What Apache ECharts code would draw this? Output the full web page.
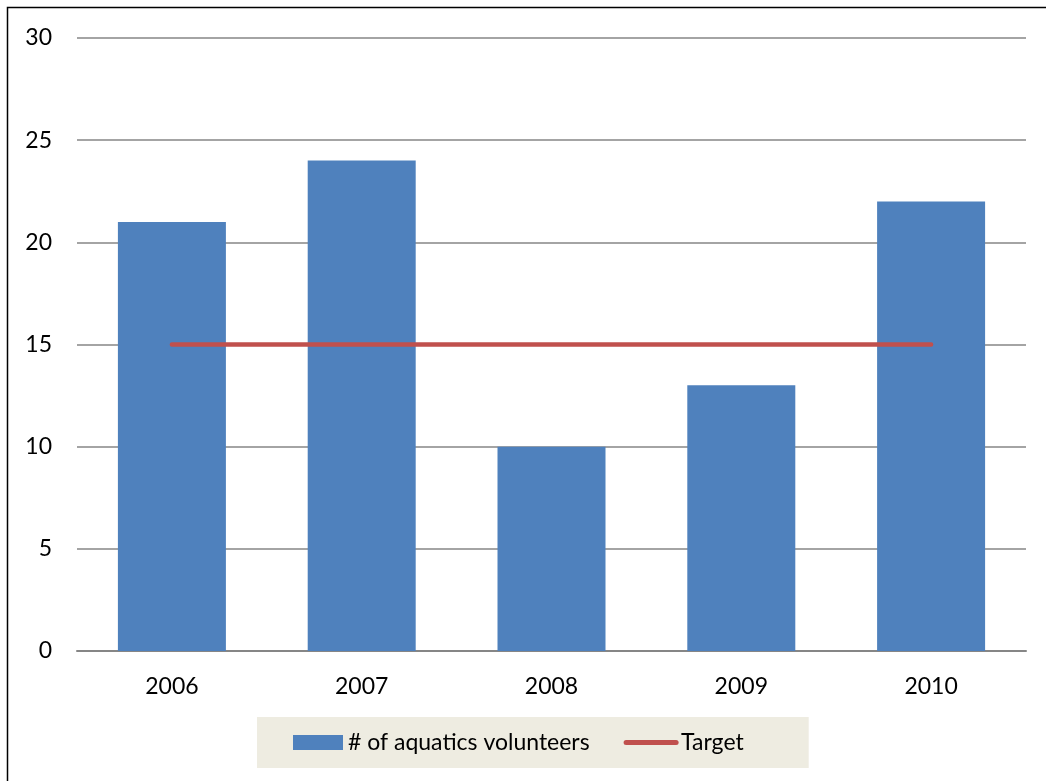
<!DOCTYPE html>
<html>
<head>
<meta charset="utf-8">
<script src="https://cdn.jsdelivr.net/npm/echarts@6/dist/echarts.min.js"></script>
<style>
  html, body { margin: 0; padding: 0; background: #fff; }
  #chart { width: 1046px; height: 781px; }
</style>
</head>
<body>
<div id="chart"></div>
<script>
const years = ["2006", "2007", "2008", "2009", "2010"];
const volunteers = [21, 24, 10, 13, 22];
const target = [15, 15, 15, 15, 15];

const chart = echarts.init(document.getElementById("chart"));

const font = "Lato, 'Open Sans', sans-serif";

chart.setOption({
    animation: false,
    textStyle: { fontFamily: font },
    graphic: [{
        type: "rect",
        shape: { x: 7.5, y: 7.5, width: 1060, height: 800 },
        style: { fill: "none", stroke: "#000", lineWidth: 1.5 },
        silent: true
    }],
    grid: { left: 77, right: 20, top: 38, bottom: 130 },
    legend: {
        left: 257,
        top: 717,
        backgroundColor: "#EEECE1",
        padding: [14, 65, 14, 36],
        itemGap: 34,
        itemWidth: 50,
        itemHeight: 15,
        textStyle: { fontSize: 23, color: "#000", fontFamily: font },
        data: [
            { name: "# of aquatics volunteers", icon: "rect" },
            {
                name: "Target",
                itemStyle: { opacity: 0 },
                lineStyle: { width: 5, cap: "round", color: "#C0504D" }
            }
        ]
    },
    xAxis: {
        type: "category",
        data: years,
        axisLine: { lineStyle: { color: "#868686", width: 2 } },
        axisTick: { show: false },
        axisLabel: { fontSize: 23, color: "#000", margin: 24 }
    },
    yAxis: {
        type: "value",
        min: 0,
        max: 30,
        interval: 5,
        axisLine: { show: false },
        axisTick: { show: false },
        axisLabel: { fontSize: 23, color: "#000", margin: 25 },
        splitLine: { lineStyle: { color: "#868686", width: 1.5 } }
    },
    series: [
        {
            name: "# of aquatics volunteers",
            type: "bar",
            data: volunteers,
            barWidth: 108,
            itemStyle: { color: "#4F81BD" }
        },
        {
            name: "Target",
            type: "line",
            data: target,
            symbol: "none",
            z: 5,
            lineStyle: { color: "#C0504D", width: 4.5, cap: "round" },
            itemStyle: { color: "#C0504D" }
        }
    ]
});
</script>
</body>
</html>
